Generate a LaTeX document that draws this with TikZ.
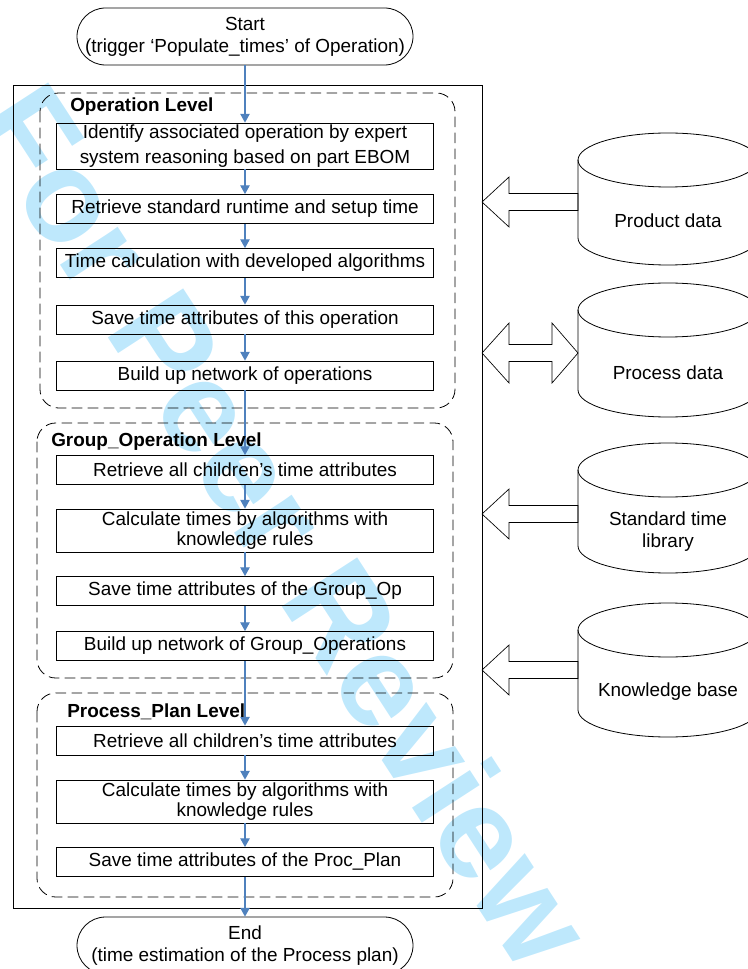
\documentclass[tikz,border=0pt]{standalone}
\usepackage{fontspec}
\setmainfont{Liberation Sans}
\usetikzlibrary{arrows.meta}
\usetikzlibrary{positioning}

\definecolor{flowblue}{RGB}{79,129,189}
\definecolor{wmark}{RGB}{190,232,252}

\begin{document}
\begin{tikzpicture}[x=0.75pt,y=0.75pt,font=\fontsize{14.2}{16.5}\selectfont,
	stepbox/.style={draw,line width=0.6pt,minimum width=282.75pt,minimum height=21.75pt,inner sep=0pt,align=center},
	termnode/.style={draw,line width=0.6pt,rounded corners=21.4pt,minimum width=252pt,minimum height=42.75pt,inner sep=0pt,align=center},
	levelbox/.style={draw,line width=0.6pt,dash pattern=on 8pt off 4pt,rounded corners=14pt},
	levellabel/.style={anchor=west,inner sep=0pt,font=\fontsize{14.2}{16.5}\selectfont\bfseries},
	flow/.style={draw=flowblue,line width=0.8pt,-{Triangle[width=7pt,length=6.5pt]}},
	blockarrow/.style={draw,line width=0.5pt,line join=miter}]
	
	\useasboundingbox (0,0) rectangle (747,-969);
	
	% watermark
	\node[rotate=-57,text=wmark,font=\fontsize{98}{98}\selectfont\bfseries] (wm) at (285,-525) {For Peer Review};
	
	\coordinate (frameNW) at (13,-85);
	\coordinate (frameSE) at (482,-908);
	\draw[line width=0.6pt] (frameNW) rectangle (frameSE);
	
	\draw[levelbox] (40,-93) rectangle (455,-408);
	\draw[levelbox] (37,-423) rectangle (453,-678);
	\draw[levelbox] (37,-693) rectangle (453,-897);
	
	\node[termnode] (start) at (245,-36.5) {Start\\(trigger ‘Populate\_times’ of Operation)};
	
	\node[stepbox,minimum height=34.5pt] (op1) at (245,-146) {Identify associated operation by expert\\[2pt]system reasoning based on part EBOM};
	\node[stepbox] (op2) at (245,-209) {Retrieve standard runtime and setup time};
	\node[stepbox] (op3) at (245,-263) {Time calculation with developed algorithms};
	\node[stepbox] (op4) at (245,-319.5) {Save time attributes of this operation};
	\node[stepbox] (op5) at (245,-375.5) {Build up network of operations};
	
	\node[stepbox] (grp1) at (245,-470) {Retrieve all children's time attributes};
	\node[stepbox,minimum height=32.25pt] (grp2) at (245,-530.5) {Calculate times by algorithms with\\[-1pt]knowledge rules};
	\node[stepbox] (grp3) at (245,-591) {Save time attributes of the Group\_Op};
	\node[stepbox] (grp4) at (245,-646) {Build up network of Group\_Operations};
	
	\node[stepbox] (proc1) at (245,-740.5) {Retrieve all children's time attributes};
	\node[stepbox,minimum height=32.25pt] (proc2) at (245,-801.5) {Calculate times by algorithms with\\[-1pt]knowledge rules};
	\node[stepbox] (proc3) at (245,-862) {Save time attributes of the Proc\_Plan};
	
	\node[termnode] (stop) at (245,-945.5) {End\\(time estimation of the Process plan)};
	
	\draw[flow] (start) -- (op1);
	\draw[flow] (op1) -- (op2);
	\draw[flow] (op2) -- (op3);
	\draw[flow] (op3) -- (op4);
	\draw[flow] (op4) -- (op5);
	\draw[flow] (op5) -- (grp1);
	\draw[flow] (grp1) -- (grp2);
	\draw[flow] (grp2) -- (grp3);
	\draw[flow] (grp3) -- (grp4);
	\draw[flow] (grp4) -- (proc1);
	\draw[flow] (proc1) -- (proc2);
	\draw[flow] (proc2) -- (proc3);
	\draw[flow] (proc3) -- (stop);
	
	\node[levellabel] (oplabel) at (70,-107) {Operation Level};
	\node[levellabel] (grplabel) at (51,-442) {Group\_Operation Level};
	\node[levellabel] (proclabel) at (67,-712) {Process\_Plan Level};
	
	% data stores
	\foreach \cname/\ytop/\ybot/\ytxt/\ctext in {prod/133/265/221/{Product data}, procd/283/417/373/{Process data}, std/443/573/532/{Standard time\\library}, kb/603/737/692/{Knowledge base}}{
		\draw[line width=0.6pt] (668,-\ytop-27) ellipse [x radius=90,y radius=27];
		\draw[line width=0.6pt] (578,-\ytop-27) -- (578,-\ybot+27) arc[start angle=180,end angle=360,x radius=90,y radius=27] -- (758,-\ytop-27);
		\node[align=center] (\cname) at (668,-\ytxt) {\ctext};
	}
	
	\foreach \cname/\yarr in {prod/202, std/514, kb/670}{
		\coordinate (\cname-w) at (578,-\yarr);
		\draw[blockarrow] (frameSE |- \cname-w) -- ++(27,25) -- ++(0,-16.5) -- ++(69,0) -- ++(0,-17) -- ++(-69,0) -- ++(0,-16.5) -- cycle;
	}
	\coordinate (procd-w) at (578,-353);
	\draw[blockarrow] (frameSE |- procd-w) -- ++(27,30) -- ++(0,-21.5) -- ++(43,0) -- ++(0,21.5) -- (procd-w) -- ++(-26,-30) -- ++(0,21.5) -- ++(-43,0) -- ++(0,-21.5) -- cycle;
	
\end{tikzpicture}
\end{document}
